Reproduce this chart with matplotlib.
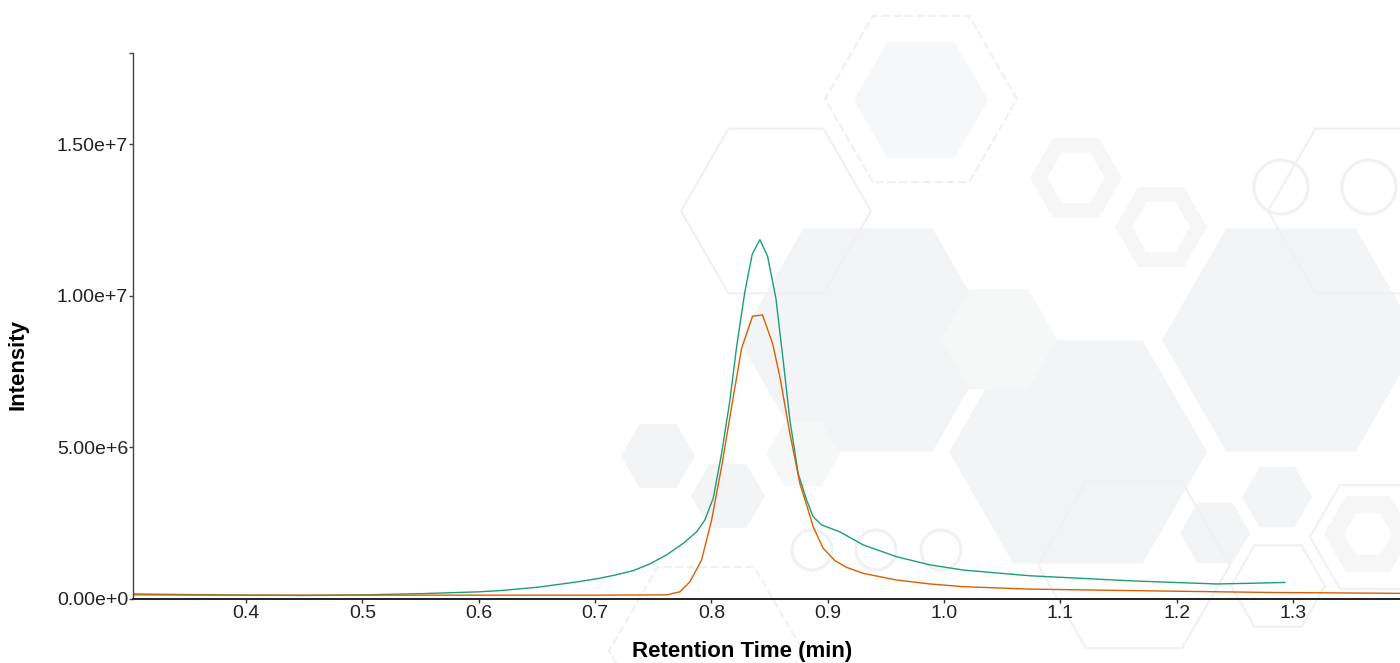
import numpy as np
import matplotlib
matplotlib.use("Agg")
import matplotlib.pyplot as plt
from matplotlib.patches import RegularPolygon, Circle
from matplotlib.ticker import FuncFormatter, FixedLocator

plt.rcParams['font.family'] = ['Liberation Sans', 'DejaVu Sans']

# ---------------- data (retention time in min, intensity) ----------------
green_t = [0.3028, 0.35, 0.40, 0.45, 0.50, 0.55, 0.60, 0.618, 0.65, 0.6755,
           0.69, 0.704, 0.718, 0.7328, 0.747, 0.7615, 0.7758, 0.7873, 0.7944,
           0.8016, 0.8088, 0.8159, 0.8217, 0.8288, 0.8351, 0.8417, 0.8483,
           0.8555, 0.8617, 0.8675, 0.8746, 0.8819, 0.8875, 0.8948, 0.9105,
           0.9305, 0.9592, 0.9879, 1.0165, 1.0739, 1.1054, 1.1624, 1.2344,
           1.2602, 1.2931]
green_v = [0.15e6, 0.13e6, 0.11e6, 0.10e6, 0.12e6, 0.16e6, 0.22e6, 0.26e6,
           0.37e6, 0.50e6, 0.58e6, 0.67e6, 0.78e6, 0.92e6, 1.14e6, 1.44e6,
           1.82e6, 2.20e6, 2.59e6, 3.31e6, 4.79e6, 6.53e6, 8.31e6, 10.13e6,
           11.36e6, 11.85e6, 11.30e6, 9.91e6, 7.87e6, 5.89e6, 4.13e6, 3.25e6,
           2.70e6, 2.43e6, 2.20e6, 1.77e6, 1.38e6, 1.11e6, 0.94e6, 0.75e6,
           0.69e6, 0.58e6, 0.48e6, 0.50e6, 0.53e6]

orange_t = [0.3028, 0.40, 0.50, 0.60, 0.70, 0.7615, 0.7729, 0.7815, 0.7916,
            0.8002, 0.8088, 0.8174, 0.8260, 0.8354, 0.8440, 0.8526, 0.8589,
            0.8675, 0.8761, 0.8832, 0.8875, 0.8961, 0.9062, 0.9162, 0.9305,
            0.9592, 0.9879, 1.0165, 1.0739, 1.1624, 1.2774, 1.392]
orange_v = [0.12e6, 0.11e6, 0.11e6, 0.11e6, 0.11e6, 0.12e6, 0.22e6, 0.55e6,
            1.27e6, 2.59e6, 4.35e6, 6.33e6, 8.26e6, 9.32e6, 9.36e6, 8.42e6,
            7.32e6, 5.45e6, 3.80e6, 2.92e6, 2.37e6, 1.66e6, 1.25e6, 1.03e6,
            0.83e6, 0.61e6, 0.48e6, 0.39e6, 0.31e6, 0.26e6, 0.20e6, 0.17e6]

x_ticks = [0.4, 0.5, 0.6, 0.7, 0.8, 0.9, 1.0, 1.1, 1.2, 1.3]
x_tick_labels = ["0.4", "0.5", "0.6", "0.7", "0.8", "0.9", "1.0", "1.1", "1.2", "1.3"]
y_ticks = [0, 5e6, 1e7, 1.5e7]
x_label = "Retention Time (min)"
y_label = "Intensity"

GREEN = "#1b9e77"
ORANGE = "#d95f02"

W, H = 1400, 663
fig = plt.figure(figsize=(W / 100, H / 100), dpi=100)
fig.patch.set_facecolor("white")

# ---------------- decorative background (pixel space) ----------------
bg = fig.add_axes([0, 0, 1, 1], zorder=0)
bg.set_xlim(0, W)
bg.set_ylim(H, 0)
bg.axis("off")

FILL = "#f3f4f6"
FILL2 = "#f6f7f7"
EDGE = "#f1f1f2"
hex_fills = [  # (cx, cy, R, color)
    (868, 340, 129, FILL), (1078, 452, 129, FILL), (1291, 340, 129, FILL),
    (999, 339, 58, FILL2), (921, 100, 67, "#f6f7f8"),
    (658, 456, 37, FILL), (728, 496, 37, FILL), (803, 454, 37, FILL2),
    (1215, 533, 35, FILL), (1277, 497, 35, FILL),
]
for cx, cy, r, c in hex_fills:
    bg.add_patch(RegularPolygon((cx, cy), 6, radius=r, orientation=np.pi / 6,
                                facecolor=c, edgecolor="none"))

hex_outlines = [  # (cx, cy, R, linestyle)
    (776, 211, 95, "-"), (1363, 211, 95, "-"), (1134, 565, 96, "-"),
    (1278, 586, 47, "-"), (921, 99, 96, "--"), (706, 651, 97, "--"),
    (1370, 537, 60, "-"),
]
for cx, cy, r, ls in hex_outlines:
    bg.add_patch(RegularPolygon((cx, cy), 6, radius=r, orientation=np.pi / 6,
                                facecolor="none", edgecolor=EDGE, lw=1.6,
                                linestyle=ls))

# ring hexagons
for cx, cy, ro, ri in [(1076, 178, 46, 29), (1161, 227, 46, 29), (1368, 534, 44, 24)]:
    bg.add_patch(RegularPolygon((cx, cy), 6, radius=ro, orientation=np.pi / 6,
                                facecolor="#f6f6f7", edgecolor="none"))
    bg.add_patch(RegularPolygon((cx, cy), 6, radius=ri, orientation=np.pi / 6,
                                facecolor="white", edgecolor="none"))

for cx, cy, r in [(1281, 187, 27), (1369, 187, 27), (812, 550, 20),
                  (876, 550, 20), (941, 550, 20)]:
    bg.add_patch(Circle((cx, cy), r, facecolor="none", edgecolor=EDGE, lw=2.2))

# ---------------- main axes ----------------
left_px, right_px, top_px, bottom_px = 133, 1400, 53.3, 598.5
ax = fig.add_axes([left_px / W, (H - bottom_px) / H,
                   (right_px - left_px) / W, (bottom_px - top_px) / H], zorder=1)
ax.patch.set_alpha(0)

ax.plot(green_t, green_v, color=GREEN, lw=1.0, solid_joinstyle="miter")
ax.plot(orange_t, orange_v, color=ORANGE, lw=1.0, solid_joinstyle="miter")

ax.set_xlim(0.3028, 1.392)
ax.set_ylim(0, 1.8e7)

for s in ["top", "right"]:
    ax.spines[s].set_visible(False)
ax.spines["left"].set_color("#444444")
ax.spines["left"].set_linewidth(1.0)
ax.spines["bottom"].set_color("#222222")
ax.spines["bottom"].set_linewidth(1.4)


def sci_fmt(v, pos=None):
    s = f"{v:.2e}"
    mant, exp = s.split("e")
    e = int(exp)
    return f"{mant}e{'+' if e >= 0 else '-'}{abs(e)}"


ax.set_xticks(x_ticks)
ax.set_xticklabels(x_tick_labels)
ax.yaxis.set_major_locator(FixedLocator(y_ticks))
ax.yaxis.set_major_formatter(FuncFormatter(sci_fmt))
ax.yaxis.set_minor_locator(FixedLocator([1.8e7]))

ax.tick_params(axis="x", which="major", direction="out", length=3, width=1,
               color="#333333", labelsize=14, labelcolor="#222222", pad=2)
ax.tick_params(axis="y", which="major", direction="out", length=3, width=1,
               color="#444444", labelsize=14, labelcolor="#222222", pad=0.5)
ax.tick_params(axis="y", which="minor", direction="out", length=3, width=1,
               color="#444444")

ax.set_xlabel(x_label, fontsize=16, fontweight="bold", color="black")
ax.set_ylabel(y_label, fontsize=16, fontweight="bold", color="black")
ax.xaxis.set_label_coords((742 - left_px) / (right_px - left_px),
                          -(652 - bottom_px) / (bottom_px - top_px))
ax.yaxis.set_label_coords(-(left_px - 18) / (right_px - left_px),
                          (bottom_px - 364) / (bottom_px - top_px))
ax.xaxis.label.set_va("center")
ax.yaxis.label.set_va("center")

fig.savefig("out.png", dpi=100, facecolor="white")
